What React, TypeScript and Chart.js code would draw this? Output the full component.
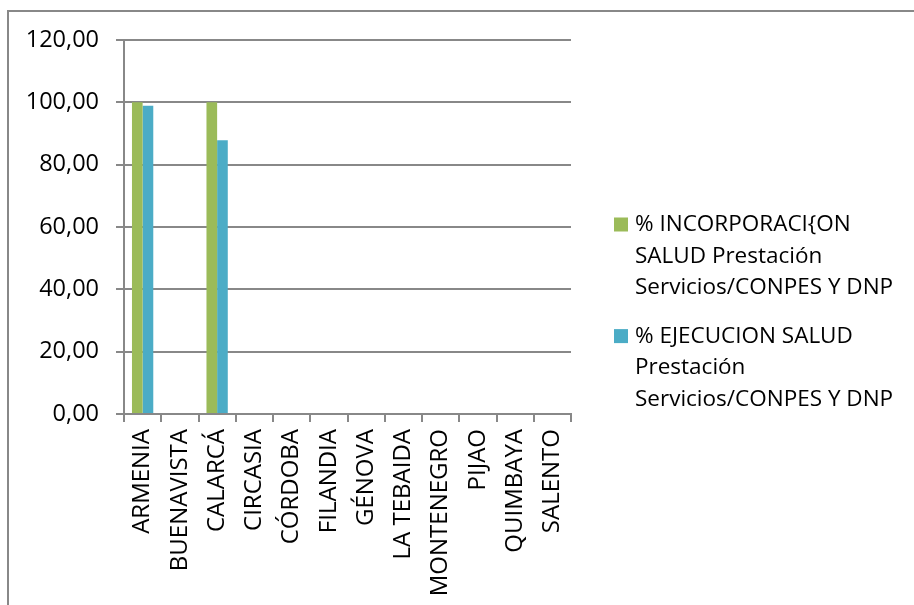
import React, { useEffect, useRef } from "react";
import { Chart, registerables } from "chart.js";

Chart.register(...registerables);

const categories = [
  "ARMENIA",
  "BUENAVISTA",
  "CALARCÁ",
  "CIRCASIA",
  "CÓRDOBA",
  "FILANDIA",
  "GÉNOVA",
  "LA TEBAIDA",
  "MONTENEGRO",
  "PIJAO",
  "QUIMBAYA",
  "SALENTO",
];

const incorporacion = [100, 0, 100, 0, 0, 0, 0, 0, 0, 0, 0, 0];
const ejecucion = [98.9, 0, 87.8, 0, 0, 0, 0, 0, 0, 0, 0, 0];

const seriesLabels = [
  "% INCORPORACI{ON SALUD Prestación Servicios/CONPES Y DNP",
  "% EJECUCION SALUD Prestación Servicios/CONPES Y DNP",
];

const yTicks = [0, 20, 40, 60, 80, 100, 120];

const GREEN = "#9BBB59";
const BLUE = "#4BACC6";
const GRID = "#888888";
const FONT = "'Open Sans', sans-serif";
const FS = 22.5;

function wrap(ctx: CanvasRenderingContext2D, text: string, maxW: number): string[] {
  const words = text.split(" ");
  const lines: string[] = [];
  let cur = "";
  for (const w of words) {
    const t = cur ? cur + " " + w : w;
    if (ctx.measureText(t).width > maxW && cur) {
      lines.push(cur);
      cur = w;
    } else {
      cur = t;
    }
  }
  if (cur) lines.push(cur);
  return lines;
}

const framePlugin = {
  id: "frame",
  beforeDraw(chart: any) {
    const ctx = chart.ctx;
    ctx.save();
    ctx.fillStyle = "#ffffff";
    ctx.fillRect(0, 0, chart.width, chart.height);
    ctx.fillStyle = GRID;
    ctx.fillRect(7, 10, chart.width - 7, 2);
    ctx.fillRect(7, 10, 2, chart.height - 10);
    ctx.restore();
  },
  afterDraw(chart: any) {
    const ctx = chart.ctx;
    ctx.save();
    ctx.font = `${FS}px ${FONT}`;
    ctx.textBaseline = "middle";
    ctx.textAlign = "left";
    const lineH = 31.7;
    let y = 224.5;
    chart.data.datasets.forEach((ds: any) => {
      const lines = wrap(ctx, ds.label, 280);
      ctx.fillStyle = ds.backgroundColor;
      ctx.fillRect(614, y - 7, 14, 14);
      ctx.fillStyle = "#000000";
      lines.forEach((ln, i) => {
        ctx.fillText(ln, 635, y + i * lineH);
      });
      y += lines.length * lineH + 16.5;
    });
    ctx.restore();
  },
};

export default function App() {
  const ref = useRef<HTMLCanvasElement>(null);

  useEffect(() => {
    if (!ref.current) return;
    const chart = new Chart(ref.current, {
      type: "bar",
      data: {
        labels: categories,
        datasets: [
          {
            label: seriesLabels[0],
            data: incorporacion,
            backgroundColor: GREEN,
            borderWidth: 0,
          },
          {
            label: seriesLabels[1],
            data: ejecucion,
            backgroundColor: BLUE,
            borderWidth: 0,
          },
        ],
      },
      options: {
        responsive: false,
        animation: false,
        devicePixelRatio: 1,
        layout: { padding: { left: 0, top: 40, right: 343, bottom: 0 } },
        datasets: {
          bar: { categoryPercentage: 0.572, barPercentage: 1 },
        },
        plugins: {
          legend: { display: false },
          tooltip: { enabled: false },
          title: { display: false },
        },
        scales: {
          x: {
            afterFit: (s: any) => {
              s.height = 191;
            },
            grid: {
              display: true,
              drawOnChartArea: false,
              drawTicks: true,
              tickLength: 8,
              color: GRID,
              lineWidth: 2,
              offset: true,
            },
            border: { display: true, color: GRID, width: 2 },
            ticks: {
              autoSkip: false,
              maxRotation: 90,
              minRotation: 90,
              padding: 7,
              color: "#000000",
              font: { family: FONT, size: 24 },
            },
          },
          y: {
            min: 0,
            max: 120,
            afterFit: (s: any) => {
              s.width = 124;
            },
            afterBuildTicks: (s: any) => {
              s.ticks = yTicks.map((v) => ({ value: v }));
            },
            grid: {
              color: GRID,
              lineWidth: 2,
              drawTicks: true,
              tickLength: 8,
            },
            border: { display: true, color: GRID, width: 2 },
            ticks: {
              padding: 17,
              color: "#000000",
              font: { family: FONT, size: 23.5 },
              callback: (v: any) => Number(v).toFixed(2).replace(".", ","),
            },
          },
        },
      },
      plugins: [framePlugin],
    });
    return () => chart.destroy();
  }, []);

  return (
    <div style={{ position: "absolute", left: 0, top: 0, width: 914, height: 605 }}>
      <canvas ref={ref} width={914} height={605} style={{ display: "block" }} />
    </div>
  );
}
